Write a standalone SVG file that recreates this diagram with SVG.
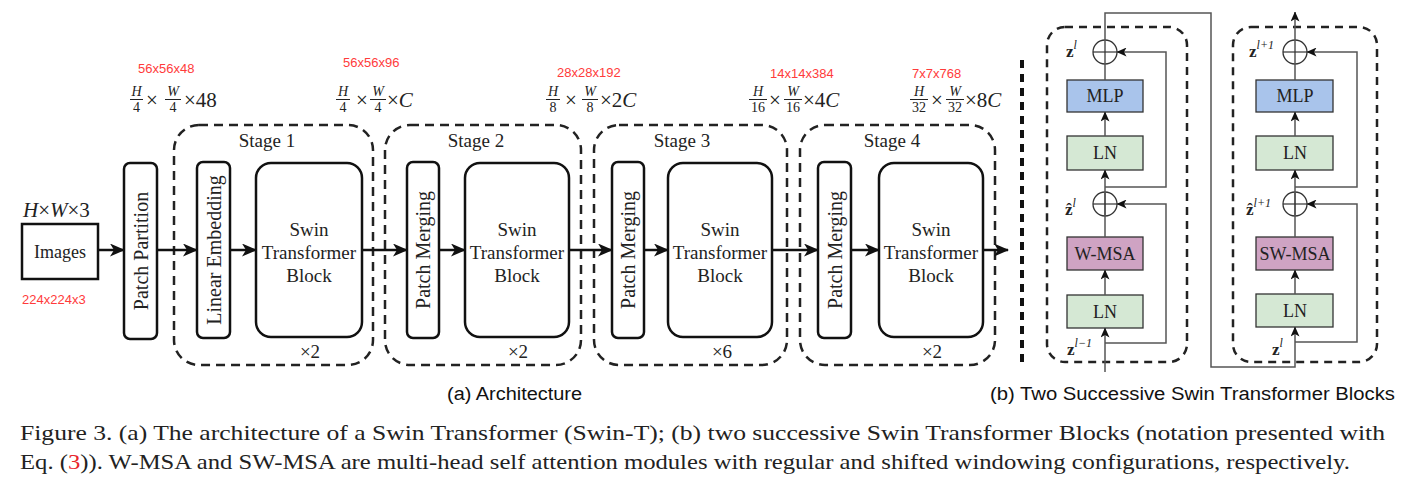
<svg xmlns="http://www.w3.org/2000/svg" width="1405" height="497" viewBox="0 0 1405 497">
<defs>
<style>
.serif{font-family:"Liberation Serif","Times New Roman",serif;fill:#222}
.sans{font-family:"Liberation Sans",Arial,sans-serif}
.red{font-family:"Liberation Sans",Arial,sans-serif;font-size:13px;fill:#ff3b3b}
.box{fill:#fff;stroke:#111;stroke-width:2.5}
.stage{fill:none;stroke:#222;stroke-width:2.5;stroke-dasharray:9 6}
.flow{fill:none;stroke:#111;stroke-width:2.5}
.lbl{font-family:"Liberation Serif","Times New Roman",serif;fill:#222;font-size:19px;text-anchor:middle}
.fn{font-family:"Liberation Serif","Times New Roman",serif;fill:#222;font-size:14px;text-anchor:middle}
.it{font-style:italic}
.bar{stroke:#222;stroke-width:1}
.op{font-family:"Liberation Serif","Times New Roman",serif;fill:#222;font-size:21px}
.thin{fill:none;stroke:#555;stroke-width:1.5}
.sb{stroke:#333;stroke-width:1.2}
.bt{font-family:"Liberation Serif","Times New Roman",serif;fill:#222;font-size:18px;text-anchor:middle}
.z{font-family:"Liberation Serif","Times New Roman",serif;fill:#222;font-size:17px;font-weight:bold}
.sup{font-family:"Liberation Serif","Times New Roman",serif;fill:#222;font-size:12px;font-style:italic;font-weight:normal}
.circ{fill:none;stroke:#333;stroke-width:1.3}
.dash2{fill:none;stroke:#222;stroke-width:2.5;stroke-dasharray:8 6}
</style>
<marker id="ah" markerWidth="15" markerHeight="13" refX="14" refY="6.5" orient="auto" markerUnits="userSpaceOnUse">
<path d="M0,0 L15,6.5 L0,13 L4,6.5 z" fill="#111"/>
</marker>
<marker id="sa" markerWidth="10" markerHeight="9" refX="9.5" refY="4.5" orient="auto" markerUnits="userSpaceOnUse">
<path d="M0,0 L10,4.5 L0,9 L2.5,4.5 z" fill="#111"/>
</marker>
</defs>
<rect width="1405" height="497" fill="#fff"/>

<!-- dimension labels -->
<g id="dims">
<text class="red" x="138" y="73">56x56x48</text>
<text class="fn it" x="136.5" y="96">H</text><line class="bar" x1="130" y1="99.5" x2="143" y2="99.5"/><text class="fn" x="136.5" y="112">4</text>
<text class="op" x="152" y="107" text-anchor="middle">×</text>
<text class="fn it" x="173" y="96">W</text><line class="bar" x1="165" y1="99.5" x2="181" y2="99.5"/><text class="fn" x="173" y="112">4</text>
<text class="op" x="184" y="107">×48</text>

<text class="red" x="343" y="67">56x56x96</text>
<text class="fn it" x="343" y="96">H</text><line class="bar" x1="336" y1="99.5" x2="350" y2="99.5"/><text class="fn" x="343" y="112">4</text>
<text class="op" x="362" y="107" text-anchor="middle">×</text>
<text class="fn it" x="378" y="96">W</text><line class="bar" x1="370" y1="99.5" x2="386" y2="99.5"/><text class="fn" x="378" y="112">4</text>
<text class="op" x="387" y="107">×<tspan class="it">C</tspan></text>

<text class="red" x="557" y="77">28x28x192</text>
<text class="fn it" x="553" y="96">H</text><line class="bar" x1="546" y1="99.5" x2="560" y2="99.5"/><text class="fn" x="553" y="112">8</text>
<text class="op" x="571" y="107" text-anchor="middle">×</text>
<text class="fn it" x="590" y="96">W</text><line class="bar" x1="582" y1="99.5" x2="598" y2="99.5"/><text class="fn" x="590" y="112">8</text>
<text class="op" x="600" y="107">×2<tspan class="it">C</tspan></text>

<text class="red" x="770" y="78">14x14x384</text>
<text class="fn it" x="758" y="96">H</text><line class="bar" x1="749" y1="99.5" x2="767" y2="99.5"/><text class="fn" x="758" y="112">16</text>
<text class="op" x="775" y="107" text-anchor="middle">×</text>
<text class="fn it" x="793" y="96">W</text><line class="bar" x1="784" y1="99.5" x2="802" y2="99.5"/><text class="fn" x="793" y="112">16</text>
<text class="op" x="803" y="107">×4<tspan class="it">C</tspan></text>

<text class="red" x="912" y="78">7x7x768</text>
<text class="fn it" x="919" y="96">H</text><line class="bar" x1="910" y1="99.5" x2="928" y2="99.5"/><text class="fn" x="919" y="112">32</text>
<text class="op" x="937" y="107" text-anchor="middle">×</text>
<text class="fn it" x="955" y="96">W</text><line class="bar" x1="946" y1="99.5" x2="964" y2="99.5"/><text class="fn" x="955" y="112">32</text>
<text class="op" x="965" y="107">×8<tspan class="it">C</tspan></text>
</g>

<!-- input -->
<g id="images">
<text class="op it" x="23" y="217" font-size="21">H<tspan font-style="normal">×</tspan>W<tspan font-style="normal">×3</tspan></text>
<rect class="box" x="22" y="224" width="76" height="55"/>
<text class="serif" x="60" y="258" font-size="18" text-anchor="middle">Images</text>
<text class="red" x="22" y="304">224x224x3</text>
</g>

<g id="patch-partition">
<rect class="box" x="124" y="163" width="33" height="176" rx="6"/>
<text class="serif" transform="translate(141,251) rotate(-90)" font-size="20" text-anchor="middle" dominant-baseline="central">Patch Partition</text>
</g>

<!-- Stage 1 -->
<g id="stage1">
<rect class="stage" x="174" y="125" width="199" height="240" rx="25"/>
<text class="lbl" x="267" y="147">Stage 1</text>
<text class="lbl" x="310" y="358">×2</text>
</g>
<g id="linear-embedding">
<rect class="box" x="197" y="162" width="33" height="176" rx="6"/>
<text class="serif" transform="translate(214,250) rotate(-90)" font-size="20" text-anchor="middle" dominant-baseline="central">Linear Embedding</text>
</g>
<g id="stb1">
<rect class="box" x="256" y="163" width="106" height="174" rx="15"/>
<text class="lbl" x="309" y="236">Swin</text>
<text class="lbl" x="309" y="259">Transformer</text>
<text class="lbl" x="309" y="282">Block</text>
</g>

<!-- Stage 2 -->
<g id="stage2">
<rect class="stage" x="385" y="125" width="196" height="240" rx="25"/>
<text class="lbl" x="476" y="147">Stage 2</text>
<text class="lbl" x="518" y="358">×2</text>
</g>
<g id="pm2">
<rect class="box" x="407" y="162" width="32" height="176" rx="6"/>
<text class="serif" transform="translate(423,250) rotate(-90)" font-size="20" text-anchor="middle" dominant-baseline="central">Patch Merging</text>
</g>
<g id="stb2">
<rect class="box" x="465" y="163" width="104" height="174" rx="15"/>
<text class="lbl" x="517" y="236">Swin</text>
<text class="lbl" x="517" y="259">Transformer</text>
<text class="lbl" x="517" y="282">Block</text>
</g>

<!-- Stage 3 -->
<g id="stage3">
<rect class="stage" x="594" y="125" width="193" height="240" rx="25"/>
<text class="lbl" x="682" y="147">Stage 3</text>
<text class="lbl" x="722" y="358">×6</text>
</g>
<g id="pm3">
<rect class="box" x="612" y="162" width="32" height="176" rx="6"/>
<text class="serif" transform="translate(628,250) rotate(-90)" font-size="20" text-anchor="middle" dominant-baseline="central">Patch Merging</text>
</g>
<g id="stb3">
<rect class="box" x="668" y="163" width="104" height="174" rx="15"/>
<text class="lbl" x="720" y="236">Swin</text>
<text class="lbl" x="720" y="259">Transformer</text>
<text class="lbl" x="720" y="282">Block</text>
</g>

<!-- Stage 4 -->
<g id="stage4">
<rect class="stage" x="800" y="125" width="195" height="240" rx="25"/>
<text class="lbl" x="892" y="147">Stage 4</text>
<text class="lbl" x="932" y="358">×2</text>
</g>
<g id="pm4">
<rect class="box" x="818" y="162" width="33" height="176" rx="6"/>
<text class="serif" transform="translate(835,250) rotate(-90)" font-size="20" text-anchor="middle" dominant-baseline="central">Patch Merging</text>
</g>
<g id="stb4">
<rect class="box" x="879" y="163" width="104" height="174" rx="15"/>
<text class="lbl" x="931" y="236">Swin</text>
<text class="lbl" x="931" y="259">Transformer</text>
<text class="lbl" x="931" y="282">Block</text>
</g>

<!-- connectors (a) -->
<g id="connectors-a">
<line class="flow" x1="98" y1="250" x2="124" y2="250" marker-end="url(#ah)"/>
<line class="flow" x1="157" y1="250" x2="197" y2="250" marker-end="url(#ah)"/>
<line class="flow" x1="230" y1="250" x2="256" y2="250" marker-end="url(#ah)"/>
<line class="flow" x1="362" y1="250" x2="407" y2="250" marker-end="url(#ah)"/>
<line class="flow" x1="439" y1="250" x2="465" y2="250" marker-end="url(#ah)"/>
<line class="flow" x1="569" y1="250" x2="612" y2="250" marker-end="url(#ah)"/>
<line class="flow" x1="644" y1="250" x2="668" y2="250" marker-end="url(#ah)"/>
<line class="flow" x1="772" y1="250" x2="818" y2="250" marker-end="url(#ah)"/>
<line class="flow" x1="851" y1="250" x2="879" y2="250" marker-end="url(#ah)"/>
<line class="flow" x1="983" y1="250" x2="1008" y2="250" marker-end="url(#ah)"/>
</g>

<!-- separator -->
<line id="separator" x1="1022" y1="60" x2="1022" y2="366" stroke="#111" stroke-width="4" stroke-dasharray="8 6"/>

<!-- (b) block 1 -->
<g id="block1">
<rect class="dash2" x="1047" y="27" width="140" height="335" rx="18"/>
<rect x="1067" y="80" width="76" height="32" fill="#a9c4eb" stroke="#333" stroke-width="1.3"/>
<text class="bt" x="1105" y="102">MLP</text>
<rect x="1067" y="136" width="76" height="34" fill="#d5e8d4" stroke="#333" stroke-width="1.3"/>
<text class="bt" x="1105" y="159">LN</text>
<rect x="1067" y="237" width="76" height="33" fill="#cfa3c3" stroke="#333" stroke-width="1.3"/>
<text class="bt" x="1105" y="260">W-MSA</text>
<rect x="1067" y="295" width="76" height="33" fill="#d5e8d4" stroke="#333" stroke-width="1.3"/>
<text class="bt" x="1105" y="318">LN</text>
<circle class="circ" cx="1105" cy="52" r="12"/>
<circle class="circ" cx="1105" cy="204" r="12"/>
<text class="z" x="1066" y="57">z<tspan class="sup" dy="-8">l</tspan></text>
<text class="z" x="1065" y="215">z&#x302;<tspan class="sup" dy="-8">l</tspan></text>
<text class="z" x="1067" y="355">z<tspan class="sup" dy="-8">l−1</tspan></text>
</g>

<!-- (b) block 2 -->
<g id="block2">
<rect class="dash2" x="1233" y="27" width="144" height="335" rx="18"/>
<rect x="1256" y="80" width="77" height="32" fill="#a9c4eb" stroke="#333" stroke-width="1.3"/>
<text class="bt" x="1295" y="102">MLP</text>
<rect x="1256" y="136" width="77" height="34" fill="#d5e8d4" stroke="#333" stroke-width="1.3"/>
<text class="bt" x="1295" y="159">LN</text>
<rect x="1256" y="237" width="77" height="33" fill="#cfa3c3" stroke="#333" stroke-width="1.3"/>
<text class="bt" x="1295" y="260">SW-MSA</text>
<rect x="1256" y="294" width="77" height="33" fill="#d5e8d4" stroke="#333" stroke-width="1.3"/>
<text class="bt" x="1295" y="317">LN</text>
<circle class="circ" cx="1295" cy="52" r="12"/>
<circle class="circ" cx="1295" cy="204" r="12"/>
<text class="z" x="1249" y="57">z<tspan class="sup" dy="-8">l+1</tspan></text>
<text class="z" x="1246" y="215">z&#x302;<tspan class="sup" dy="-8">l+1</tspan></text>
<text class="z" x="1272" y="355">z<tspan class="sup" dy="-8">l</tspan></text>
</g>

<!-- connectors (b) -->
<g id="connectors-b">
<line class="thin" x1="1105" y1="372" x2="1105" y2="328" marker-end="url(#sa)"/>
<line class="thin" x1="1105" y1="295" x2="1105" y2="270" stroke="#222" stroke-width="2" marker-end="url(#sa)"/>
<line class="thin" x1="1105" y1="237" x2="1105" y2="192"/>
<line class="thin" x1="1105" y1="216" x2="1105" y2="170" marker-end="url(#sa)"/>
<line class="thin" x1="1105" y1="136" x2="1105" y2="112" marker-end="url(#sa)"/>
<line class="thin" x1="1105" y1="80" x2="1105" y2="40"/>
<line class="sb" x1="1093" y1="52" x2="1117" y2="52"/>
<line class="sb" x1="1093" y1="204" x2="1117" y2="204"/>
<path class="thin" d="M1105,343 H1166 V204 H1117" marker-end="url(#sa)"/>
<path class="thin" d="M1105,187 H1166 V52 H1117" marker-end="url(#sa)"/>
<path class="thin" d="M1105,40 V13 H1211 V367 H1295 V327" marker-end="url(#sa)"/>
<line class="thin" x1="1295" y1="294" x2="1295" y2="270" stroke="#222" stroke-width="2" marker-end="url(#sa)"/>
<line class="thin" x1="1295" y1="237" x2="1295" y2="192"/>
<line class="thin" x1="1295" y1="216" x2="1295" y2="170" marker-end="url(#sa)"/>
<line class="thin" x1="1295" y1="136" x2="1295" y2="112" marker-end="url(#sa)"/>
<line class="thin" x1="1295" y1="80" x2="1295" y2="64"/>
<line class="thin" x1="1295" y1="64" x2="1295" y2="12" marker-end="url(#sa)"/>
<line class="sb" x1="1283" y1="52" x2="1307" y2="52"/>
<line class="sb" x1="1283" y1="204" x2="1307" y2="204"/>
<path class="thin" d="M1295,342 H1357 V204 H1307" marker-end="url(#sa)"/>
<path class="thin" d="M1295,187 H1357 V52 H1307" marker-end="url(#sa)"/>
</g>

<!-- sub captions -->
<g id="captions">
<text class="sans" x="447" y="400" font-size="18" fill="#111" textLength="135" lengthAdjust="spacingAndGlyphs">(a) Architecture</text>
<text class="sans" x="990" y="400" font-size="18" fill="#111" textLength="405" lengthAdjust="spacingAndGlyphs">(b) Two Successive Swin Transformer Blocks</text>
<text class="serif" x="20" y="440" font-size="21" fill="#111" textLength="1365" lengthAdjust="spacingAndGlyphs">Figure 3. (a) The architecture of a Swin Transformer (Swin-T); (b) two successive Swin Transformer Blocks (notation presented with</text>
<text class="serif" x="20" y="469" font-size="21" fill="#111" textLength="1330" lengthAdjust="spacingAndGlyphs">Eq. (<tspan fill="#e8262b">3</tspan>)). W-MSA and SW-MSA are multi-head self attention modules with regular and shifted windowing configurations, respectively.</text>
</g>
</svg>
